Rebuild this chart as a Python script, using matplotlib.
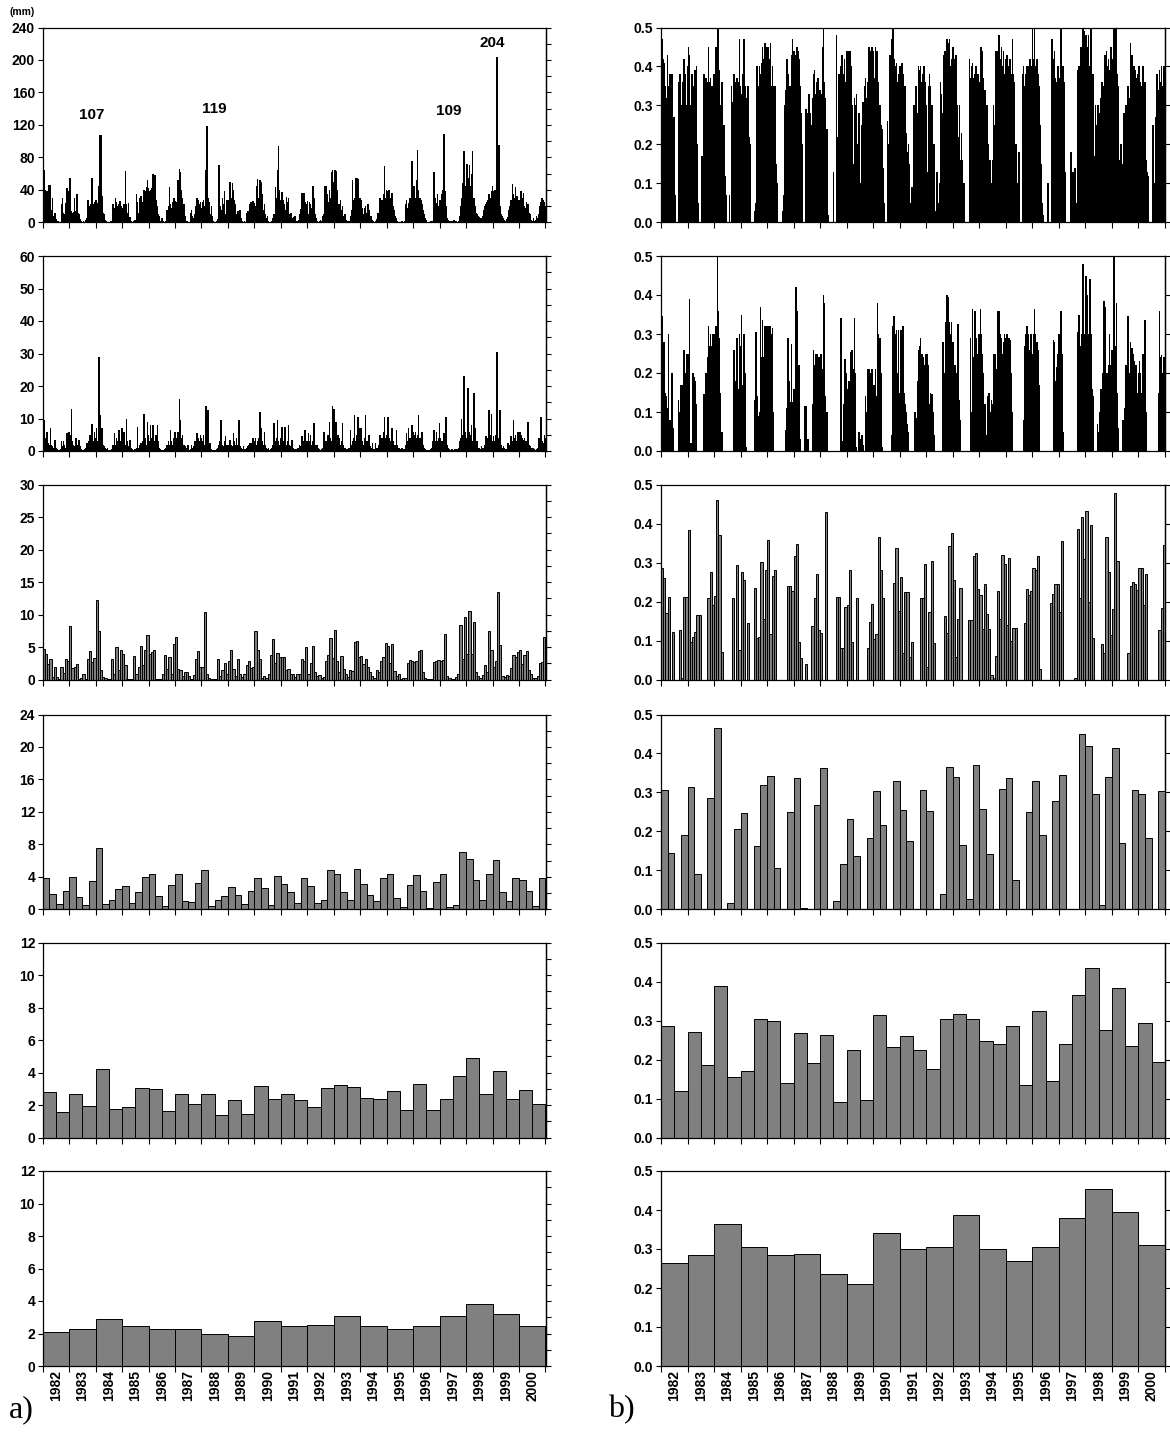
import matplotlib
matplotlib.use("Agg")
import matplotlib.pyplot as plt
import numpy as np

plt.rcParams['font.family'] = ['Liberation Sans', 'DejaVu Sans']

years = list(range(1982, 2001))
year_labels = [str(y) for y in years]

# ---------------- left column (mm) ----------------
# row 1: daily precipitation, 24 readings per year (peak values, mm)
precip_daily = [
    [65, 40, 30, 38, 22, 46, 46, 15, 30, 8, 12, 4, 2, 1, 0, 0, 22, 30, 12, 10, 24, 42, 38, 14],
    [54, 14, 12, 13, 30, 14, 35, 12, 10, 4, 2, 0, 1, 0, 3, 5, 28, 12, 20, 22, 54, 22, 25, 28],
    [28, 24, 45, 107, 107, 32, 12, 10, 3, 1, 0, 0, 0, 1, 2, 22, 18, 30, 25, 20, 22, 26, 20, 18],
    [18, 22, 63, 22, 12, 24, 6, 2, 0, 0, 1, 3, 35, 25, 12, 30, 33, 20, 25, 40, 38, 44, 52, 42],
    [38, 40, 42, 60, 45, 58, 28, 20, 10, 8, 2, 5, 1, 0, 0, 2, 15, 20, 44, 22, 18, 25, 30, 26],
    [20, 25, 52, 66, 62, 40, 30, 22, 8, 2, 1, 0, 0, 12, 15, 8, 5, 10, 20, 30, 28, 22, 25, 18],
    [25, 28, 20, 65, 119, 30, 25, 10, 20, 8, 2, 0, 0, 2, 4, 70, 20, 15, 30, 22, 38, 10, 28, 22],
    [28, 50, 30, 48, 40, 28, 22, 10, 14, 12, 15, 5, 1, 0, 2, 0, 12, 14, 10, 22, 25, 18, 26, 24],
    [20, 45, 53, 30, 52, 50, 35, 15, 22, 10, 5, 8, 2, 0, 0, 1, 5, 10, 44, 30, 64, 94, 40, 28],
    [37, 28, 22, 15, 31, 25, 30, 10, 12, 5, 3, 6, 8, 2, 1, 3, 10, 16, 36, 30, 36, 25, 22, 26],
    [10, 25, 22, 18, 45, 30, 10, 5, 2, 0, 1, 3, 2, 8, 10, 45, 45, 35, 25, 40, 30, 62, 64, 50],
    [64, 63, 40, 15, 22, 28, 15, 20, 8, 10, 3, 2, 1, 2, 8, 15, 52, 28, 30, 55, 54, 53, 22, 30],
    [28, 18, 10, 18, 20, 12, 22, 15, 5, 8, 3, 1, 0, 2, 4, 12, 8, 30, 22, 28, 35, 69, 30, 40],
    [38, 40, 24, 30, 36, 20, 15, 8, 5, 2, 0, 0, 0, 1, 0, 2, 22, 28, 18, 24, 30, 20, 75, 35],
    [45, 30, 52, 89, 40, 30, 27, 22, 15, 10, 5, 3, 0, 0, 0, 1, 0, 2, 62, 30, 24, 35, 20, 27],
    [27, 35, 40, 109, 38, 20, 5, 3, 2, 1, 2, 2, 3, 1, 2, 0, 2, 8, 20, 30, 48, 88, 45, 40],
    [72, 55, 70, 45, 60, 88, 30, 20, 12, 10, 8, 6, 5, 5, 8, 15, 20, 22, 25, 28, 35, 30, 38, 45],
    [38, 40, 30, 204, 40, 95, 20, 10, 8, 5, 3, 2, 4, 6, 15, 20, 28, 47, 35, 30, 44, 32, 28, 25],
    [28, 39, 30, 36, 20, 18, 25, 22, 12, 10, 3, 2, 5, 2, 3, 8, 5, 10, 20, 25, 30, 28, 25, 20],
]

# row 2: short-period means, 24 per year
precip_short = [
    [9.5, 4, 3, 6, 2.5, 2, 7, 2, 1.5, 1, 3.5, 1, 0.5, 0.3, 0.2, 0.5, 3, 1.5, 3, 2, 1, 5.5, 3, 6],
    [5, 13, 3, 2, 1.5, 4, 2, 1, 3.5, 1.5, 0.5, 0.3, 0.2, 0.5, 1, 2.5, 1.5, 3, 5, 4, 8.3, 3, 6, 4],
    [7, 3, 29, 11, 3, 7, 2, 1.5, 1, 0.5, 1, 0.3, 0.2, 0.3, 0.5, 2, 5.5, 2, 4, 3, 6.5, 2.5, 3, 7],
    [4, 6, 2, 10, 3, 1.5, 3.5, 1, 0.5, 0.3, 0.2, 0.5, 1, 7.5, 1, 2, 2.5, 2, 3, 11.5, 4, 2, 9, 5],
    [3, 8, 4, 8, 3, 2, 5, 8, 3, 1, 0.5, 0.3, 0.2, 0.3, 0.5, 1, 2, 3, 2, 6.5, 3, 2, 4, 6],
    [4, 3, 6, 16, 9.5, 4, 5, 2, 1.5, 1, 0.5, 2, 0.3, 0.5, 2, 1, 1.5, 3, 2, 5.5, 4, 3, 5, 4],
    [3, 5, 2, 14, 4, 12.5, 2, 2.5, 0.5, 0.3, 0.2, 0.2, 0.3, 0.5, 1, 2, 3, 9.5, 2, 1.5, 3, 4.5, 2, 1.5],
    [2, 3.5, 2, 1.5, 5.5, 3, 2, 4, 2, 9.5, 1.5, 1, 0.5, 1.5, 0.5, 0.5, 1, 1.5, 2, 2.5, 2.5, 2, 4, 3],
    [4, 2, 3, 4, 12, 7, 3, 2, 6, 2, 1, 0.5, 1, 0.3, 0.5, 1, 2, 8.5, 3, 4, 9.5, 3, 2, 4],
    [7.5, 3, 2, 7.5, 2, 3, 8, 2, 1.5, 3.5, 1, 0.5, 0.5, 0.5, 1, 1, 2, 1.5, 4.5, 2, 3, 6.5, 3, 3],
    [5.5, 3, 5, 2, 3, 8.5, 2, 1, 2, 1, 0.5, 0.3, 0.5, 1, 6, 2, 3, 3, 5, 9, 4, 3, 14, 13],
    [4, 9, 3, 5, 4, 2, 3, 8.5, 2, 1, 0.5, 0.3, 0.5, 1, 6.5, 2, 3, 4, 11, 3, 5, 10.5, 4, 7],
    [7, 3, 2, 4, 11, 3, 2, 5, 1.5, 1, 2.5, 0.5, 0.5, 2.5, 1, 1, 2, 5, 3, 4, 6, 10.5, 4, 5],
    [10.5, 4, 3, 3, 7, 3, 2, 2, 6.5, 2, 1, 0.5, 0.3, 1, 0.5, 0.5, 2, 5.5, 3, 7, 4, 3, 8, 6],
    [5, 6, 4, 5, 11, 4, 3, 6, 2, 1, 0.5, 0.3, 0.2, 0.2, 0.3, 0.5, 1, 3, 6.5, 3, 6, 3, 4, 8.5],
    [4, 3, 3, 5.5, 4, 10.5, 2, 1, 0.5, 0.3, 0.5, 0.3, 0.2, 0.5, 0.3, 0.5, 1, 3, 4, 10, 5, 23, 6, 4],
    [4, 19.5, 6, 5, 8, 3, 18, 7, 2, 3, 1, 1, 0.5, 1.5, 1, 1, 2, 4.5, 3, 4, 12.5, 5, 11.5, 3],
    [4.5, 3, 5, 30.5, 4, 2, 12.5, 2, 1, 1.5, 1, 0.5, 0.5, 2.5, 1.5, 2, 4.5, 3, 9.5, 4, 5, 3, 6, 4],
    [6, 5, 4, 3.5, 4, 3, 3, 9, 2, 1.5, 0.5, 1, 1, 0.5, 0.3, 0.5, 1, 4, 2, 10.5, 3, 2.5, 5, 4],
]

# row 3: monthly means (12 per year)
precip_monthly = [
    4.7, 4.0, 2.4, 3.1, 0.4, 1.9, 0.4, 0.1, 2.0, 1.0, 3.2, 2.8,
    8.2, 1.7, 1.9, 2.4, 0.1, 0.3, 0.9, 0.1, 3.1, 4.4, 2.7, 3.3,
    12.3, 7.5, 1.4, 0.4, 0.2, 0.1, 0.1, 3.1, 0.9, 5.0, 1.5, 4.5,
    3.9, 2.2, 0.1, 0.1, 0.1, 3.6, 0.8, 1.9, 5.2, 2.2, 4.5, 6.9,
    4.0, 4.2, 4.6, 0.1, 0.1, 0.1, 0.8, 3.8, 1.6, 3.4, 0.9, 5.5,
    6.6, 1.6, 1.4, 0.6, 1.2, 1.1, 0.6, 0.1, 0.7, 3.1, 4.4, 1.9,
    1.9, 10.4, 0.9, 0.2, 0.1, 0.1, 0.1, 3.1, 0.6, 1.5, 2.6, 0.9,
    2.9, 4.6, 1.6, 0.5, 3.1, 0.9, 0.4, 0.9, 2.2, 2.9, 1.7, 1.9,
    7.4, 4.6, 3.1, 0.2, 0.6, 0.2, 0.8, 3.8, 6.2, 2.6, 4.1, 3.5,
    3.5, 3.5, 1.4, 1.6, 0.9, 0.9, 0.4, 0.9, 0.9, 3.1, 2.9, 5.0,
    0.9, 2.5, 5.2, 1.2, 0.6, 0.7, 0.2, 0.4, 2.9, 3.8, 6.4, 3.3,
    7.7, 2.8, 1.1, 3.6, 1.6, 0.9, 0.4, 1.5, 1.3, 5.8, 5.9, 3.4,
    3.6, 2.4, 3.2, 1.9, 1.2, 0.6, 0.3, 1.4, 1.2, 2.8, 3.4, 5.6,
    5.2, 2.6, 5.4, 1.3, 0.6, 0.9, 0.1, 0.2, 0.3, 2.5, 3.0, 2.9,
    2.7, 2.9, 4.4, 4.6, 1.2, 0.3, 0.1, 0.1, 0.1, 2.7, 2.8, 3.0,
    2.9, 3.0, 7.0, 0.5, 0.3, 0.1, 0.1, 0.4, 0.8, 8.4, 3.2, 9.6,
    4.0, 10.6, 4.0, 8.9, 1.2, 0.6, 0.3, 0.7, 2.3, 1.2, 7.4, 4.6,
    2.0, 2.8, 13.5, 5.3, 0.6, 0.4, 0.7, 0.6, 1.7, 3.7, 3.5, 4.2,
    4.6, 2.4, 3.8, 4.4, 1.4, 0.8, 0.3, 0.2, 0.6, 2.5, 2.7, 6.5,
]

# row 4: seasonal means (4 per year)
precip_seasonal = [
    3.8, 1.9, 0.7, 2.3, 4.0, 1.5, 0.5, 3.5, 7.6, 0.7, 1.1, 2.5, 2.9, 0.8, 2.1, 4.0,
    4.4, 1.7, 0.4, 3.0, 4.3, 1.0, 0.9, 3.2, 4.9, 0.4, 1.1, 1.7, 2.8, 1.8, 0.6, 2.2,
    3.8, 2.6, 0.5, 4.1, 3.1, 2.1, 0.8, 3.8, 2.9, 0.8, 1.2, 4.9, 4.4, 2.1, 1.1, 5.0,
    3.1, 1.8, 1.0, 3.9, 4.3, 1.4, 0.3, 3.0, 4.2, 2.3, 0.1, 3.4, 4.4, 0.3, 0.5, 7.1,
    6.2, 3.6, 1.1, 4.4, 6.1, 2.1, 1.0, 3.8, 3.6, 2.2, 0.4, 3.8,
]

# row 5: half-year means (2 per year)
precip_halfyear = [
    2.8, 1.55, 2.7, 1.95, 4.2, 1.75, 1.85, 3.05, 3.0, 1.65, 2.65, 2.05, 2.65, 1.4,
    2.3, 1.45, 3.15, 2.35, 2.65, 2.3, 1.9, 3.05, 3.25, 3.1, 2.45, 2.4, 2.85, 1.7,
    3.3, 1.7, 2.4, 3.8, 4.9, 2.7, 4.1, 2.4, 2.9, 2.05,
]

# row 6: annual means
precip_annual = [2.1, 2.3, 2.9, 2.45, 2.3, 2.3, 2.0, 1.85, 2.75, 2.45, 2.5, 3.1,
                 2.45, 2.25, 2.45, 3.1, 3.8, 3.2, 2.45]

# ---------------- right column (ratio) ----------------
ratio_daily = [
    [0.47, 0.42, 0.41, 0.35, 0.32, 0.43, 0.35, 0.38, 0.38, 0.38, 0.2, 0.27, 0.07, 0, 0, 0.36, 0.38, 0.3, 0.27, 0.36, 0.42, 0.38, 0.3, 0.4],
    [0.45, 0.43, 0.3, 0.38, 0.35, 0.3, 0.39, 0.4, 0.2, 0.05, 0, 0, 0.17, 0.1, 0.38, 0.29, 0.37, 0.36, 0.45, 0.36, 0.37, 0.35, 0.35, 0.38],
    [0.38, 0.45, 0.5, 0.5, 0.39, 0.3, 0.36, 0.22, 0.25, 0.12, 0.07, 0, 0, 0.07, 0, 0.35, 0.31, 0.38, 0.33, 0.36, 0.37, 0.36, 0.47, 0.35],
    [0.33, 0.38, 0.47, 0.35, 0.32, 0.3, 0.35, 0.22, 0.2, 0, 0, 0, 0.03, 0.05, 0.4, 0.35, 0.4, 0.38, 0.41, 0.45, 0.42, 0.46, 0.42, 0.45],
    [0.45, 0.42, 0.46, 0.35, 0.4, 0.35, 0.35, 0.15, 0.1, 0, 0, 0, 0, 0.03, 0.07, 0.3, 0.34, 0.42, 0.38, 0.3, 0.35, 0.43, 0.47, 0.44],
    [0.44, 0.43, 0.45, 0.44, 0.42, 0.35, 0.28, 0.2, 0, 0, 0.29, 0.28, 0.23, 0.33, 0.28, 0.25, 0.32, 0.38, 0.39, 0.33, 0.36, 0.37, 0.32, 0.34],
    [0.33, 0.45, 0.5, 0.36, 0.32, 0.24, 0.02, 0, 0, 0, 0, 0.13, 0, 0, 0.48, 0.22, 0.38, 0.35, 0.4, 0.43, 0.38, 0.42, 0.36, 0.44],
    [0.44, 0.38, 0.44, 0.4, 0.3, 0.15, 0.32, 0.3, 0.33, 0.2, 0.28, 0.1, 0.05, 0.25, 0.31, 0.35, 0.37, 0.32, 0.36, 0.45, 0.44, 0.43, 0.45, 0.44],
    [0.37, 0.45, 0.44, 0.44, 0.36, 0.3, 0.25, 0.24, 0.14, 0.05, 0, 0, 0.26, 0.2, 0.43, 0.35, 0.47, 0.5, 0.42, 0.4, 0.41, 0.36, 0.38, 0.4],
    [0.4, 0.41, 0.38, 0.33, 0.35, 0.23, 0.18, 0.2, 0.15, 0.05, 0.09, 0, 0.3, 0.3, 0.35, 0.28, 0.4, 0.39, 0.4, 0.36, 0.38, 0.4, 0.36, 0.3],
    [0.13, 0.35, 0.38, 0.35, 0.3, 0.16, 0.2, 0.03, 0, 0.13, 0.05, 0.1, 0.36, 0.33, 0.28, 0.43, 0.44, 0.38, 0.47, 0.46, 0.47, 0.4, 0.42, 0.45],
    [0.42, 0.36, 0.43, 0.3, 0.22, 0.3, 0.16, 0.23, 0.16, 0.1, 0, 0, 0, 0, 0.42, 0.37, 0.4, 0.41, 0.37, 0.38, 0.4, 0.35, 0.38, 0.36],
    [0.45, 0.45, 0.44, 0.37, 0.34, 0.29, 0.3, 0.2, 0.16, 0.16, 0.1, 0.16, 0.3, 0.25, 0.44, 0.38, 0.44, 0.48, 0.42, 0.45, 0.4, 0.44, 0.38, 0.42],
    [0.43, 0.4, 0.38, 0.42, 0.38, 0.47, 0.38, 0.36, 0.2, 0.1, 0, 0.18, 0, 0, 0.38, 0.4, 0.35, 0.38, 0.4, 0.38, 0.4, 0.42, 0.4, 0.5],
    [0.42, 0.5, 0.4, 0.42, 0.38, 0.35, 0.25, 0.15, 0.05, 0.02, 0, 0, 0, 0.1, 0, 0, 0, 0.47, 0.42, 0.44, 0.37, 0.36, 0.4, 0.37],
    [0.37, 0.5, 0.35, 0.4, 0.36, 0.13, 0, 0, 0, 0, 0.18, 0.1, 0.13, 0.14, 0.14, 0.05, 0.39, 0.4, 0.39, 0.45, 0.42, 0.5, 0.49, 0.48],
    [0.48, 0.45, 0.48, 0.4, 0.5, 0.33, 0.38, 0.17, 0.3, 0.25, 0.3, 0.3, 0.28, 0.32, 0.36, 0.3, 0.35, 0.43, 0.44, 0.4, 0.42, 0.39, 0.45, 0.42],
    [0.42, 0.5, 0.5, 0.5, 0.38, 0.35, 0.16, 0.2, 0.15, 0.1, 0.28, 0.27, 0.3, 0.35, 0.35, 0.32, 0.46, 0.43, 0.38, 0.4, 0.39, 0.37, 0.38, 0.4],
    [0.4, 0.36, 0.35, 0.4, 0.3, 0.36, 0.16, 0.13, 0.12, 0, 0, 0, 0.25, 0.06, 0.1, 0.27, 0.38, 0.34, 0.39, 0.36, 0.4, 0.35, 0.4, 0.38],
]

ratio_short = [
    [0.345, 0.28, 0.28, 0.15, 0.14, 0.11, 0.3, 0.08, 0.06, 0.2, 0.06, 0, 0, 0, 0, 0.13, 0.1, 0.17, 0.17, 0.08, 0.26, 0.2, 0.25, 0.25],
    [0.25, 0.39, 0.02, 0, 0.2, 0.19, 0.18, 0.12, 0, 0, 0, 0, 0, 0, 0.145, 0.04, 0.2, 0.24, 0.32, 0.27, 0.3, 0.27, 0.3, 0.3],
    [0.3, 0.32, 0.5, 0.36, 0.29, 0.15, 0.05, 0, 0, 0, 0, 0, 0, 0, 0, 0, 0, 0.26, 0.03, 0.18, 0.29, 0.16, 0.3, 0.27],
    [0.35, 0.17, 0.3, 0.2, 0.01, 0, 0, 0, 0, 0, 0, 0, 0.13, 0.305, 0.14, 0.09, 0.1, 0.37, 0.24, 0.335, 0.24, 0.32, 0.32, 0.32],
    [0.315, 0.32, 0.32, 0.3, 0.315, 0.1, 0, 0, 0, 0, 0, 0, 0, 0, 0, 0, 0.055, 0.11, 0.29, 0.18, 0.125, 0.275, 0.125, 0.16],
    [0.16, 0.42, 0.36, 0.17, 0.22, 0.03, 0, 0, 0, 0.115, 0.115, 0.03, 0.03, 0, 0, 0, 0.12, 0.26, 0.22, 0.25, 0.25, 0.24, 0.21, 0.24],
    [0.25, 0.21, 0.4, 0.38, 0.14, 0.1, 0, 0, 0, 0, 0, 0, 0, 0, 0, 0, 0, 0, 0.34, 0.025, 0.12, 0.235, 0.235, 0.2],
    [0.16, 0.18, 0.14, 0.255, 0.26, 0.21, 0.34, 0.2, 0.01, 0, 0.05, 0.03, 0, 0.04, 0.015, 0, 0.14, 0.1, 0.21, 0.21, 0.15, 0.2, 0.21, 0.17],
    [0.17, 0.21, 0.14, 0.38, 0.3, 0.29, 0.2, 0.01, 0, 0, 0, 0, 0, 0, 0, 0, 0.04, 0.32, 0.345, 0.3, 0.31, 0.2, 0.31, 0.15],
    [0.31, 0.3, 0.32, 0.15, 0.12, 0.1, 0.07, 0.05, 0, 0, 0, 0, 0, 0.1, 0.085, 0.18, 0.26, 0.27, 0.29, 0.25, 0.24, 0.22, 0.2, 0.25],
    [0.25, 0.22, 0.12, 0.15, 0.145, 0.1, 0.04, 0, 0, 0, 0, 0, 0, 0, 0.28, 0.18, 0.2, 0.33, 0.4, 0.395, 0.33, 0.3, 0.33, 0.28],
    [0.2, 0.22, 0.2, 0.14, 0.325, 0.13, 0.08, 0, 0, 0, 0, 0, 0, 0, 0, 0.29, 0.1, 0.365, 0.24, 0.36, 0.29, 0.25, 0.2, 0.3],
    [0.365, 0.3, 0.25, 0.2, 0.12, 0.04, 0.03, 0.14, 0.15, 0.1, 0.13, 0.12, 0.25, 0.25, 0.21, 0.2, 0.36, 0.36, 0.3, 0.29, 0.25, 0.28, 0.3, 0.29],
    [0.3, 0.285, 0.29, 0.285, 0.2, 0.1, 0, 0, 0, 0, 0, 0, 0, 0, 0, 0.08, 0.27, 0.3, 0.32, 0.3, 0.25, 0.26, 0.3, 0.25],
    [0.3, 0.365, 0.3, 0.28, 0.26, 0.17, 0, 0, 0, 0, 0, 0, 0, 0, 0, 0, 0, 0, 0.285, 0.28, 0.18, 0.215, 0.25, 0.3],
    [0.3, 0.36, 0.25, 0.05, 0, 0, 0, 0, 0, 0, 0, 0, 0, 0, 0, 0, 0.305, 0.35, 0.2, 0.27, 0.3, 0.48, 0.3, 0.45],
    [0.45, 0.4, 0.3, 0.44, 0.3, 0.16, 0.14, 0, 0, 0, 0.07, 0.05, 0.1, 0.16, 0.12, 0.2, 0.385, 0.37, 0.2, 0.2, 0.22, 0.3, 0.22, 0.26],
    [0.26, 0.5, 0.27, 0.38, 0.15, 0.06, 0, 0, 0, 0.08, 0.04, 0.11, 0.22, 0.345, 0.345, 0.2, 0.28, 0.265, 0.25, 0.23, 0.2, 0.22, 0.15, 0.2],
    [0.23, 0.2, 0.15, 0.25, 0.22, 0.335, 0.1, 0, 0, 0, 0, 0, 0, 0, 0, 0, 0, 0.15, 0.36, 0.24, 0.245, 0.2, 0.24, 0.2],
]

ratio_monthly = [
    0.285, 0.26, 0.17, 0.213, 0, 0.122, 0, 0, 0.128, 0.003, 0.213, 0.213,
    0.383, 0.097, 0.11, 0.122, 0.165, 0.165, 0, 0, 0, 0.208, 0.275, 0.19,
    0.215, 0.462, 0.37, 0.07, 0, 0, 0, 0, 0.21, 0, 0.295, 0.077,
    0.277, 0.255, 0, 0.145, 0, 0, 0.236, 0.107, 0.11, 0.302, 0.155, 0.28,
    0.357, 0.117, 0.265, 0.282, 0, 0, 0, 0, 0, 0.24, 0.24, 0.228,
    0.316, 0.348, 0.095, 0.056, 0, 0.04, 0, 0, 0.137, 0.21, 0.27, 0.128,
    0.12, 0, 0.43, 0, 0, 0, 0, 0.213, 0.213, 0.082, 0.082, 0.185,
    0.19, 0.28, 0.095, 0, 0.21, 0, 0, 0, 0, 0.08, 0.148, 0.195,
    0.105, 0.118, 0.367, 0.282, 0.21, 0, 0, 0, 0, 0.248, 0.337, 0.175,
    0.262, 0.068, 0.225, 0.225, 0.058, 0.095, 0, 0, 0, 0.21, 0.21, 0.296,
    0.032, 0.174, 0.305, 0.094, 0, 0, 0, 0, 0.163, 0.12, 0.343, 0.375,
    0.255, 0.058, 0.156, 0.235, 0, 0, 0, 0.154, 0.154, 0.317, 0.324, 0.233,
    0.218, 0.13, 0.245, 0.167, 0.13, 0.012, 0.004, 0.061, 0.227, 0.155, 0.32, 0.297,
    0.139, 0.313, 0.1, 0.132, 0.132, 0, 0, 0, 0.145, 0.233, 0.218, 0.226,
    0.286, 0.28, 0.317, 0.028, 0, 0, 0, 0, 0.197, 0.22, 0.244, 0.246,
    0.174, 0.355, 0, 0, 0, 0, 0, 0.004, 0.387, 0.21, 0.418, 0.31,
    0.432, 0.2, 0.397, 0.107, 0, 0, 0, 0.09, 0.067, 0.366, 0.276, 0.115,
    0.18, 0.479, 0.303, 0, 0, 0, 0, 0.069, 0.239, 0.25, 0.244, 0.229,
    0.285, 0.285, 0.192, 0.271, 0, 0, 0, 0, 0, 0.126, 0.184, 0.346,
]

ratio_seasonal = [
    0.305, 0.145, 0, 0.19, 0.315, 0.09, 0, 0.285, 0.465, 0, 0.017, 0.205,
    0.248, 0, 0.163, 0.32, 0.342, 0.105, 0, 0.25, 0.337, 0.004, 0, 0.268,
    0.362, 0, 0.022, 0.117, 0.233, 0.136, 0, 0.182, 0.303, 0.217, 0, 0.33,
    0.256, 0.175, 0, 0.305, 0.253, 0, 0.04, 0.366, 0.34, 0.166, 0.027, 0.37,
    0.257, 0.142, 0, 0.31, 0.336, 0.076, 0, 0.251, 0.33, 0.19, 0, 0.277,
    0.345, 0, 0, 0.45, 0.418, 0.295, 0.01, 0.34, 0.415, 0.17, 0, 0.307,
    0.297, 0.183, 0, 0.303,
]

ratio_halfyear = [
    0.285, 0.12, 0.27, 0.185, 0.39, 0.155, 0.17, 0.305, 0.3, 0.14, 0.268, 0.192,
    0.262, 0.09, 0.225, 0.095, 0.315, 0.232, 0.26, 0.225, 0.175, 0.305, 0.318, 0.305,
    0.248, 0.24, 0.285, 0.135, 0.325, 0.145, 0.24, 0.365, 0.435, 0.275, 0.385, 0.235,
    0.295, 0.195,
]

ratio_annual = [0.265, 0.285, 0.365, 0.305, 0.285, 0.288, 0.235, 0.21, 0.34, 0.3,
                0.305, 0.388, 0.3, 0.27, 0.305, 0.38, 0.455, 0.395, 0.31]

peak_labels = ["107", "119", "109", "204"]
peak_label_x = [1983.85, 1988.47, 1997.36, 1999.0]
peak_label_y = [124, 131, 128, 212]


def flat(nested):
    out = []
    for row in nested:
        assert len(row) == 24, len(row)
        out.extend(row)
    return out


W, H = 1170, 1433
fig = plt.figure(figsize=(W / 100, H / 100), dpi=100)

col_x = [(42.7, 545.5), (661.0, 1165.0)]
row_y = [(27.5, 222.3), (256.0, 451.0), (484.7, 679.5),
         (714.5, 909.3), (942.7, 1137.5), (1171.0, 1366.0)]


def make_ax(cx, ry):
    x0, x1 = cx
    y0, y1 = ry
    return fig.add_axes([x0 / W, 1 - y1 / H, (x1 - x0) / W, (y1 - y0) / H])


def draw(ax, values, per_year, ymax, ystep, dense, is_ratio, bottom):
    values = np.asarray(values, dtype=float)
    n = len(values)
    assert n == per_year * len(years), (n, per_year)
    x = years[0] + (np.arange(n) + 0.5) / per_year
    if dense:
        ax.bar(x, values, width=0.5 / per_year, color='black', edgecolor='black',
               linewidth=0.5, antialiased=False)
    else:
        ax.bar(x, values, width=1.0 / per_year, color='#808080',
               edgecolor='black', linewidth=0.7)
    ax.set_xlim(years[0], years[-1] + 1)
    ax.set_ylim(0, ymax)
    yt = np.arange(0, ymax + ystep / 2, ystep)
    ax.set_yticks(yt)
    if is_ratio:
        ax.set_yticklabels([f"{v:.1f}" for v in yt])
    else:
        ax.set_yticklabels([f"{int(round(v))}" for v in yt])
    ax.tick_params(axis='y', direction='out', length=3.5, width=0.8, pad=2,
                   labelsize=10)
    for lab in ax.get_yticklabels():
        lab.set_fontweight('bold')
    # year boundaries as ticks
    ax.set_xticks(list(range(years[0], years[-1] + 2)))
    ax.set_xticklabels([])
    ax.tick_params(axis='x', which='major', direction='out', length=4, width=0.8)
    if bottom:
        ax.set_xticks([y + 0.5 for y in years], minor=True)
        ax.set_xticklabels(year_labels, minor=True, rotation=90, fontsize=10,
                           fontweight='bold')
        ax.tick_params(axis='x', which='minor', length=0, pad=3)
    # right-side ticks
    sec = ax.secondary_yaxis('right')
    rstep = ystep if is_ratio else ystep / 2
    sec.set_yticks(np.arange(0, ymax + rstep / 2, rstep))
    sec.set_yticklabels([])
    sec.tick_params(direction='out', length=3.5, width=0.8)
    sec.spines['right'].set_linewidth(0.9)
    for s in ax.spines.values():
        s.set_linewidth(0.9)


left_specs = [
    (flat(precip_daily), 24, 240, 40, True),
    (flat(precip_short), 24, 60, 10, True),
    (precip_monthly, 12, 30, 5, False),
    (precip_seasonal, 4, 24, 4, False),
    (precip_halfyear, 2, 12, 2, False),
    (precip_annual, 1, 12, 2, False),
]
right_specs = [
    (flat(ratio_daily), 24, True),
    (flat(ratio_short), 24, True),
    (ratio_monthly, 12, False),
    (ratio_seasonal, 4, False),
    (ratio_halfyear, 2, False),
    (ratio_annual, 1, False),
]

axes_left = []
for i, (vals, per, ymax, step, dense) in enumerate(left_specs):
    ax = make_ax(col_x[0], row_y[i])
    draw(ax, vals, per, ymax, step, dense, False, i == 5)
    axes_left.append(ax)

for i, (vals, per, dense) in enumerate(right_specs):
    ax = make_ax(col_x[1], row_y[i])
    draw(ax, vals, per, 0.5, 0.1, dense, True, i == 5)

for lab, lx, ly in zip(peak_labels, peak_label_x, peak_label_y):
    axes_left[0].text(lx, ly, lab, ha='center', va='bottom', fontsize=11,
                      fontweight='bold', clip_on=False)

fig.text(22 / W, 1 - 12 / H, "(mm)", ha='center', va='center', fontsize=7.5,
         fontweight='bold')
fig.text(9 / W, 1 - 1410 / H, "a)", ha='left', va='center', fontsize=23,
         family=['Liberation Serif', 'DejaVu Serif'])
fig.text(608 / W, 1 - 1410 / H, "b)", ha='left', va='center', fontsize=23,
         family=['Liberation Serif', 'DejaVu Serif'])

fig.savefig("out.png", dpi=100)
